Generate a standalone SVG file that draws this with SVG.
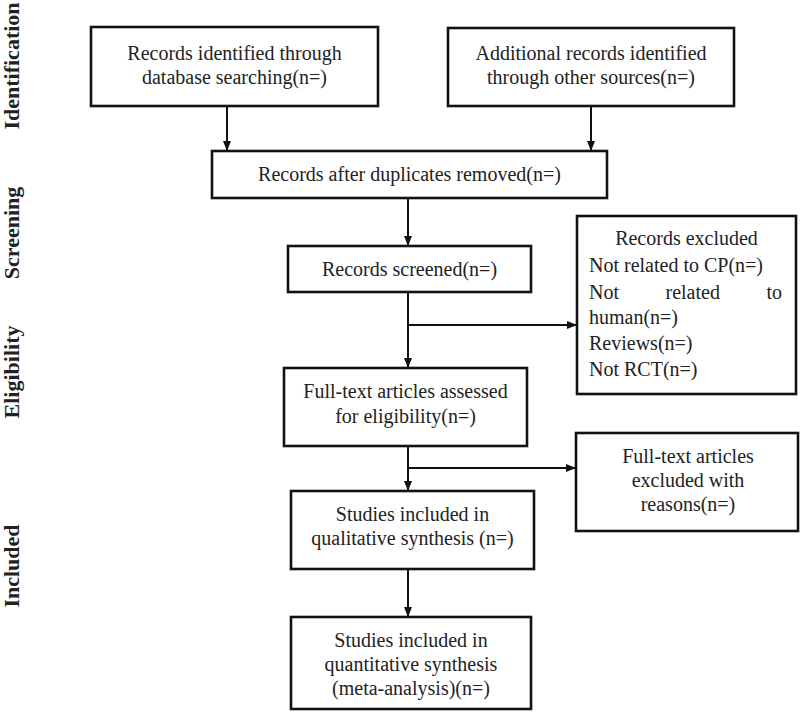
<svg xmlns="http://www.w3.org/2000/svg" width="800" height="715" viewBox="0 0 800 715">
<defs>
<style>
.box{fill:#fff;stroke:#111;stroke-width:2.6}
.t{font-family:"Liberation Serif","Times New Roman",serif;font-size:20px;fill:#222}
.c{text-anchor:middle}
.lab{font-family:"Liberation Serif","Times New Roman",serif;font-size:22px;font-weight:bold;fill:#222;text-anchor:middle}
.ln{fill:none;stroke:#111;stroke-width:2}
</style>
<marker id="ah" viewBox="0 0 10 10" refX="10" refY="5" markerWidth="10" markerHeight="10" markerUnits="userSpaceOnUse" orient="auto">
<path d="M0,1 L10,5 L0,9 Z" fill="#111"/>
</marker>
</defs>
<rect width="800" height="715" fill="#fff"/>

<g id="stage-labels">
<text class="lab" transform="translate(19,66) rotate(-90)">Identification</text>
<text class="lab" transform="translate(19,233) rotate(-90)">Screening</text>
<text class="lab" transform="translate(19,372) rotate(-90)">Eligibility</text>
<text class="lab" transform="translate(19,566) rotate(-90)">Included</text>
</g>

<g id="connectors">
<line class="ln" x1="227" y1="106" x2="227" y2="151" marker-end="url(#ah)"/>
<line class="ln" x1="591" y1="106" x2="591" y2="151" marker-end="url(#ah)"/>
<line class="ln" x1="408" y1="198" x2="408" y2="246" marker-end="url(#ah)"/>
<line class="ln" x1="408" y1="292" x2="408" y2="368" marker-end="url(#ah)"/>
<line class="ln" x1="409" y1="325" x2="577" y2="325" marker-end="url(#ah)"/>
<line class="ln" x1="408" y1="446" x2="408" y2="491" marker-end="url(#ah)"/>
<line class="ln" x1="409" y1="468" x2="576" y2="468" marker-end="url(#ah)"/>
<line class="ln" x1="408" y1="569" x2="408" y2="617" marker-end="url(#ah)"/>
</g>

<g id="db-records">
<rect class="box" x="91" y="27" width="287" height="79"/>
<text class="t c" x="234.5" y="60">Records identified through</text>
<text class="t c" x="234.5" y="84">database searching(n=)</text>
</g>

<g id="other-records">
<rect class="box" x="448" y="28" width="286" height="78"/>
<text class="t c" x="591" y="60">Additional records identified</text>
<text class="t c" x="591" y="84">through other sources(n=)</text>
</g>

<g id="dedup">
<rect class="box" x="212" y="151" width="395" height="47"/>
<text class="t c" x="409.5" y="181">Records after duplicates removed(n=)</text>
</g>

<g id="screened">
<rect class="box" x="288" y="246" width="243" height="46"/>
<text class="t c" x="409.5" y="276">Records screened(n=)</text>
</g>

<g id="excluded">
<rect class="box" x="577" y="216" width="219" height="178"/>
<text class="t c" x="686.5" y="245">Records excluded</text>
<text class="t" x="589" y="272">Not related to CP(n=)</text>
<text class="t" x="589" y="299" word-spacing="41.5">Not related to</text>
<text class="t" x="589" y="324">human(n=)</text>
<text class="t" x="589" y="350">Reviews(n=)</text>
<text class="t" x="589" y="376">Not RCT(n=)</text>
</g>

<g id="fulltext">
<rect class="box" x="284" y="368" width="243" height="78"/>
<text class="t c" x="405.5" y="398">Full-text articles assessed</text>
<text class="t c" x="405.5" y="423">for eligibility(n=)</text>
</g>

<g id="fulltext-excluded">
<rect class="box" x="576" y="433" width="222" height="98"/>
<text class="t c" x="688" y="463">Full-text articles</text>
<text class="t c" x="688" y="487">excluded with</text>
<text class="t c" x="688" y="511">reasons(n=)</text>
</g>

<g id="qualitative">
<rect class="box" x="291" y="491" width="243" height="78"/>
<text class="t c" x="412.5" y="521">Studies included in</text>
<text class="t c" x="412.5" y="545">qualitative synthesis (n=)</text>
</g>

<g id="quantitative">
<rect class="box" x="291" y="617" width="240" height="92"/>
<text class="t c" x="411" y="647">Studies included in</text>
<text class="t c" x="411" y="671">quantitative synthesis</text>
<text class="t c" x="411" y="695">(meta-analysis)(n=)</text>
</g>
</svg>
